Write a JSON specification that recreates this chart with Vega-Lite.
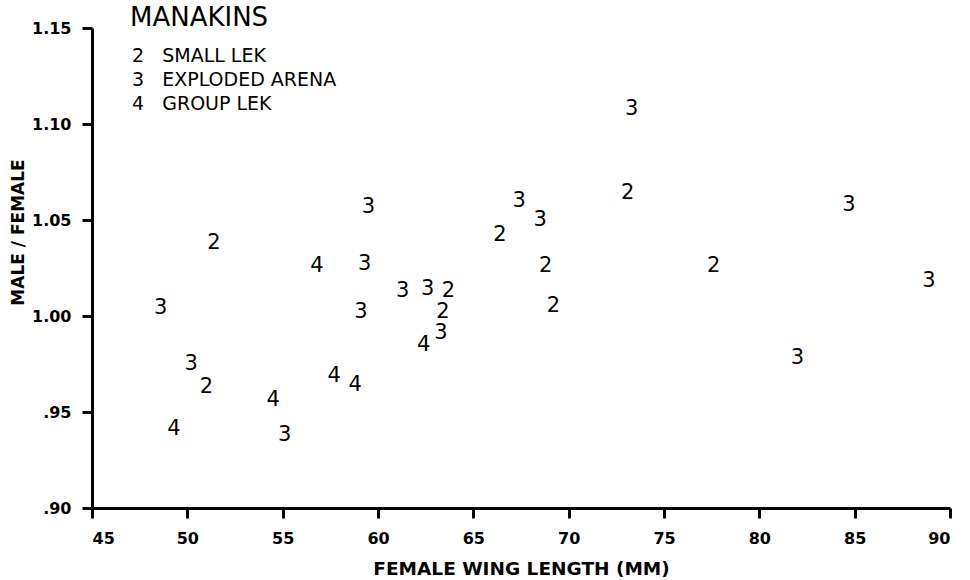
{
  "$schema": "https://vega.github.io/schema/vega-lite/v6.json",
  "width": 858,
  "height": 480,
  "autosize": {"type": "none"},
  "padding": {"left": 92, "top": 28, "right": 20, "bottom": 72},
  "background": "white",
  "config": {
    "view": {"stroke": null},
    "font": "DejaVu Sans",
    "axis": {
      "grid": false,
      "domainColor": "black",
      "domainWidth": 3,
      "tickColor": "black",
      "tickWidth": 3,
      "tickSize": 10,
      "labelFont": "DejaVu Sans",
      "labelFontSize": 16,
      "labelFontWeight": "bold",
      "labelColor": "black",
      "titleFont": "DejaVu Sans",
      "titleFontSize": 18.5,
      "titleFontWeight": "bold",
      "titleColor": "black"
    }
  },
  "data": {
    "values": [
      {"wing": 48.6, "ratio": 1.004, "code": "3", "system": "EXPLODED ARENA"},
      {"wing": 51.4, "ratio": 1.038, "code": "2", "system": "SMALL LEK"},
      {"wing": 50.2, "ratio": 0.975, "code": "3", "system": "EXPLODED ARENA"},
      {"wing": 51.0, "ratio": 0.963, "code": "2", "system": "SMALL LEK"},
      {"wing": 49.3, "ratio": 0.941, "code": "4", "system": "GROUP LEK"},
      {"wing": 54.5, "ratio": 0.956, "code": "4", "system": "GROUP LEK"},
      {"wing": 55.1, "ratio": 0.938, "code": "3", "system": "EXPLODED ARENA"},
      {"wing": 57.7, "ratio": 0.969, "code": "4", "system": "GROUP LEK"},
      {"wing": 58.8, "ratio": 0.964, "code": "4", "system": "GROUP LEK"},
      {"wing": 56.8, "ratio": 1.026, "code": "4", "system": "GROUP LEK"},
      {"wing": 59.3, "ratio": 1.027, "code": "3", "system": "EXPLODED ARENA"},
      {"wing": 59.5, "ratio": 1.057, "code": "3", "system": "EXPLODED ARENA"},
      {"wing": 59.1, "ratio": 1.002, "code": "3", "system": "EXPLODED ARENA"},
      {"wing": 61.3, "ratio": 1.013, "code": "3", "system": "EXPLODED ARENA"},
      {"wing": 62.6, "ratio": 1.014, "code": "3", "system": "EXPLODED ARENA"},
      {"wing": 63.7, "ratio": 1.013, "code": "2", "system": "SMALL LEK"},
      {"wing": 63.4, "ratio": 1.002, "code": "2", "system": "SMALL LEK"},
      {"wing": 63.3, "ratio": 0.991, "code": "3", "system": "EXPLODED ARENA"},
      {"wing": 62.4, "ratio": 0.985, "code": "4", "system": "GROUP LEK"},
      {"wing": 66.4, "ratio": 1.042, "code": "2", "system": "SMALL LEK"},
      {"wing": 67.4, "ratio": 1.060, "code": "3", "system": "EXPLODED ARENA"},
      {"wing": 68.5, "ratio": 1.050, "code": "3", "system": "EXPLODED ARENA"},
      {"wing": 68.8, "ratio": 1.026, "code": "2", "system": "SMALL LEK"},
      {"wing": 69.2, "ratio": 1.005, "code": "2", "system": "SMALL LEK"},
      {"wing": 73.3, "ratio": 1.108, "code": "3", "system": "EXPLODED ARENA"},
      {"wing": 73.1, "ratio": 1.064, "code": "2", "system": "SMALL LEK"},
      {"wing": 77.6, "ratio": 1.026, "code": "2", "system": "SMALL LEK"},
      {"wing": 84.7, "ratio": 1.058, "code": "3", "system": "EXPLODED ARENA"},
      {"wing": 88.9, "ratio": 1.018, "code": "3", "system": "EXPLODED ARENA"},
      {"wing": 82.0, "ratio": 0.978, "code": "3", "system": "EXPLODED ARENA"}
    ]
  },
  "mark": {"type": "text", "fontSize": 21, "font": "DejaVu Sans", "align": "center", "baseline": "middle"},
  "encoding": {
    "x": {
      "field": "wing",
      "type": "quantitative",
      "scale": {"domain": [45, 90], "nice": false, "zero": false},
      "axis": {
        "values": [45, 50, 55, 60, 65, 70, 75, 80, 85, 90],
        "title": "FEMALE WING LENGTH (MM)",
        "labelPadding": 12,
        "titlePadding": 13
      }
    },
    "y": {
      "field": "ratio",
      "type": "quantitative",
      "scale": {"domain": [0.9, 1.15], "nice": false, "zero": false},
      "axis": {
        "values": [0.9, 0.95, 1.0, 1.05, 1.1, 1.15],
        "labelExpr": "datum.value < 1 ? replace(format(datum.value, '.2f'), '0.', '.') : format(datum.value, '.2f')",
        "title": "MALE / FEMALE",
        "labelPadding": 11,
        "titleFontSize": 17,
        "titleAngle": -90,
        "titleAlign": "center",
        "titleBaseline": "middle",
        "titleX": -74,
        "titleY": 204
      }
    },
    "text": {"field": "code"},
    "color": {
      "field": "system",
      "type": "nominal",
      "sort": ["SMALL LEK", "EXPLODED ARENA", "GROUP LEK"],
      "scale": {"range": ["black", "black", "black"]},
      "legend": {
        "title": "MANAKINS",
        "orient": "none",
        "legendX": 38,
        "legendY": -23,
        "titleFont": "DejaVu Sans",
        "titleFontSize": 26,
        "titleFontWeight": "normal",
        "titleColor": "black",
        "titlePadding": 15,
        "labelFont": "DejaVu Sans",
        "labelFontSize": 19,
        "labelColor": "black",
        "labelLimit": 0,
        "labelOffset": -17,
        "symbolOpacity": 0,
        "symbolSize": 0,
        "symbolStrokeWidth": 0,
        "rowPadding": 4,
        "labelExpr": "datum.label == 'SMALL LEK' ? '2\u00a0\u00a0\u00a0SMALL LEK' : datum.label == 'EXPLODED ARENA' ? '3\u00a0\u00a0\u00a0EXPLODED ARENA' : '4\u00a0\u00a0\u00a0GROUP LEK'"
      }
    }
  }
}
